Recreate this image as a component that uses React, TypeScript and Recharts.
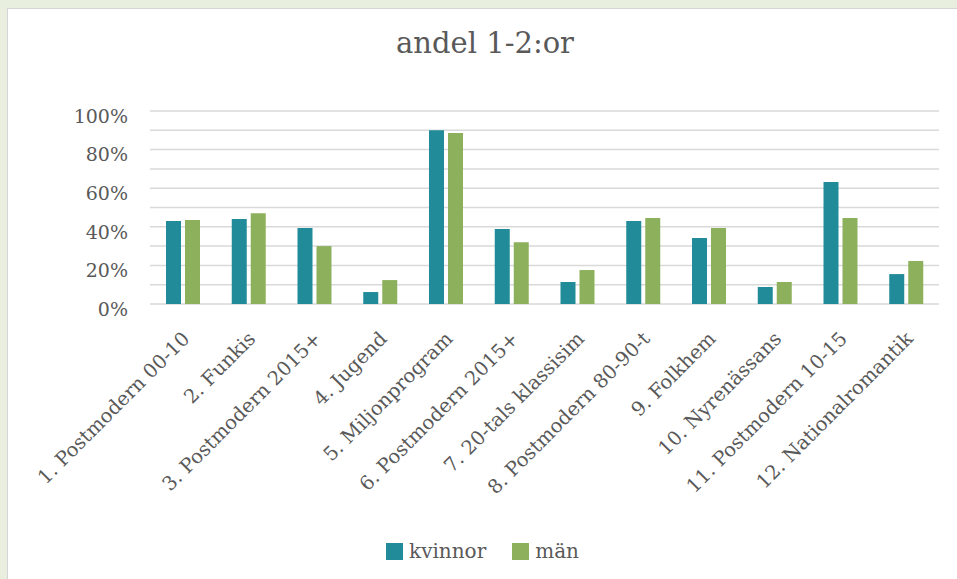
import React from 'react';
import { BarChart, Bar, XAxis, YAxis, CartesianGrid, Legend } from 'recharts';

// Kategorier och andelar (procent)
const categories = [
  '1. Postmodern 00-10',
  '2. Funkis',
  '3. Postmodern 2015+',
  '4. Jugend',
  '5. Miljonprogram',
  '6. Postmodern 2015+',
  '7. 20-tals klassisim',
  '8. Postmodern 80-90-t',
  '9. Folkhem',
  '10. Nyrenässans',
  '11. Postmodern 10-15',
  '12. Nationalromantik',
];
const kvinnor = [43, 44, 39.4, 6.2, 90, 38.9, 11.4, 43, 34.2, 8.8, 63.2, 15.5];
const man = [43.5, 47, 30, 12.4, 88.6, 32, 17.6, 44.6, 39.4, 11.4, 44.6, 22.3];
// gridlinjer var 10:e procent, etikett var 20:e
const gridValues = [0, 10, 20, 30, 40, 50, 60, 70, 80, 90, 100];

const FONT = '"DejaVu Serif", serif';
const TEXT = '#595959';
const TEAL = '#218b99';
const GREEN = '#8db05d';

const data = categories.map((name, i) => ({ name, kvinnor: kvinnor[i], man: man[i] }));

const CatTick = (props: any) => {
  const { x, y, payload } = props;
  return (
    <text
      x={0}
      y={0}
      transform={`translate(${x + 8},${y + 36}) rotate(-45)`}
      textAnchor="end"
      fill={TEXT}
      fontSize={19.5}
      fontFamily={FONT}
    >
      {payload.value}
    </text>
  );
};

const legendItems = [
  { label: 'kvinnor', color: TEAL },
  { label: 'män', color: GREEN },
];

const LegendBox = () => (
  <div style={{ display: 'flex', justifyContent: 'center', gap: 26, fontFamily: FONT, fontSize: 20, color: TEXT }}>
    {legendItems.map((it) => (
      <div key={it.label} style={{ display: 'flex', alignItems: 'center', fontFamily: FONT }}>
        <span style={{ display: 'inline-block', width: 17, height: 17, background: it.color, marginRight: 6 }} />
        <span style={{ fontFamily: FONT }}>{it.label}</span>
      </div>
    ))}
  </div>
);

export default function App() {
  return (
    <div
      style={{
        position: 'absolute',
        left: 0,
        top: 0,
        width: 957,
        height: 579,
        background: '#e8efde',
        overflow: 'hidden',
        fontFamily: FONT,
      }}
    >
      <div
        style={{
          position: 'absolute',
          left: 7,
          top: 8,
          width: 960,
          height: 580,
          background: '#fff',
          borderLeft: '1px solid #d4d4d4',
          borderTop: '1px solid #d4d4d4',
        }}
      />
      <div
        style={{
          position: 'absolute',
          left: 10,
          top: 26,
          width: 950,
          textAlign: 'center',
          fontFamily: FONT,
          fontSize: 29,
          color: TEXT,
        }}
      >
        andel 1-2:or
      </div>
      <div style={{ position: 'absolute', left: 0, top: 0 }}>
        <BarChart
          width={957}
          height={579}
          data={data}
          margin={{ top: 111, right: 18, bottom: 245, left: 70 }}
          barSize={15}
          barGap={4}
        >
          <CartesianGrid vertical={false} stroke="#d9d9d9" strokeWidth={1.5} />
          <XAxis
            dataKey="name"
            interval={0}
            tick={<CatTick />}
            tickLine={false}
            axisLine={false}
            tickSize={0}
            tickMargin={0}
          />
          <YAxis
            width={80}
            domain={[0, 100]}
            ticks={gridValues}
            interval={0}
            tickFormatter={(v: number) => (v % 20 === 0 ? `${v}%` : '')}
            tick={{ fill: TEXT, fontSize: 19, fontFamily: FONT, dy: 5 }}
            tickLine={false}
            axisLine={false}
            tickSize={6}
            tickMargin={16}
          />
          <Bar dataKey="kvinnor" name="kvinnor" fill={TEAL} isAnimationActive={false} />
          <Bar dataKey="man" name="män" fill={GREEN} isAnimationActive={false} />
          <Legend
            layout="horizontal"
            verticalAlign="middle"
            align="center"
            content={<LegendBox />}
            wrapperStyle={{ position: 'absolute', top: 539, left: 4, width: 957, fontFamily: FONT }}
          />
        </BarChart>
      </div>
    </div>
  );
}
